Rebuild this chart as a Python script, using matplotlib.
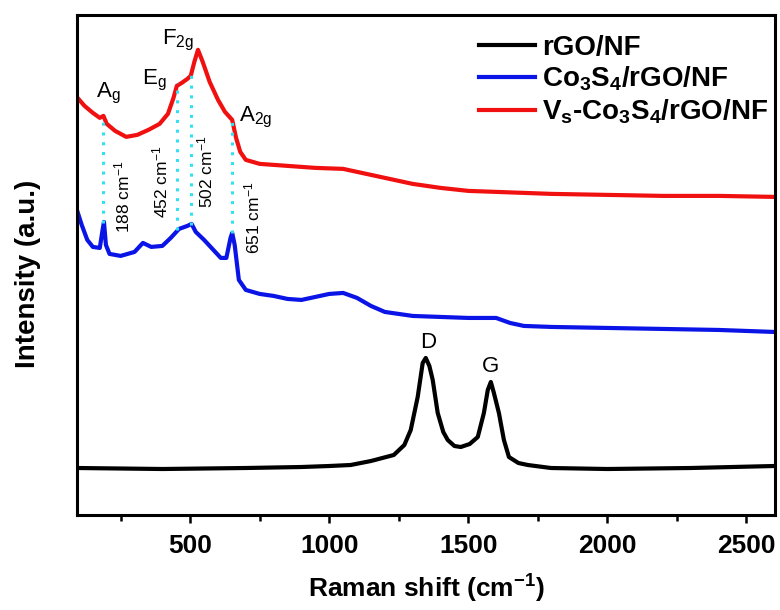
import numpy as np
import matplotlib
matplotlib.use('Agg')
import matplotlib.pyplot as plt
from matplotlib.ticker import MultipleLocator

plt.rcParams['font.family'] = ['Liberation Sans', 'DejaVu Sans']
plt.rcParams['mathtext.default'] = 'regular'

# Raman spectra (intensity in arbitrary units)
x_vs = [95, 120, 150, 175, 188, 200, 230, 270, 310, 350, 390, 420, 440, 452, 470, 490,
        502, 515, 528, 545, 570, 600, 625, 651, 665, 680, 700, 750, 850, 950, 1050,
        1100, 1200, 1300, 1400, 1500, 1600, 1800, 2000, 2200, 2400, 2600]
y_vs = [417, 409, 402, 397, 399, 391, 384, 378, 380, 385, 391, 401, 417, 429, 432, 436,
        439, 453, 465, 453, 433, 415, 403, 395, 377, 363, 355, 351, 349, 347, 346,
        343, 337, 331, 327, 324, 323, 321, 320, 319, 319, 318]

x_co = [95, 110, 130, 150, 175, 185, 190, 197, 210, 250, 300, 330, 360, 400, 430, 460,
        490, 505, 520, 550, 580, 610, 630, 645, 651, 660, 675, 700, 750, 800, 850, 900,
        950, 1000, 1050, 1100, 1150, 1200, 1300, 1400, 1500, 1600, 1650, 1700, 1800,
        2000, 2200, 2400, 2600]
y_co = [303, 290, 275, 268, 267, 285, 293, 270, 261, 259, 263, 272, 268, 269, 277, 286,
        289, 291, 283, 275, 266, 257, 257, 277, 282, 270, 235, 225, 221, 219, 216, 215,
        218, 221, 222, 217, 209, 203, 199, 198, 197, 197, 192, 189, 188,
        187, 186, 185, 183]

x_rgo = [95, 400, 700, 900, 1000, 1077, 1150, 1232, 1270, 1293, 1318, 1336, 1347, 1360,
         1372, 1390, 1410, 1426, 1450, 1473, 1505, 1534, 1556, 1570, 1581, 1592, 1610,
         1628, 1646, 1680, 1714, 1797, 2000, 2300, 2600]
y_rgo = [47, 46, 47, 48, 49, 50, 54, 60, 70, 85, 118, 152, 157, 149,
         135, 102, 83, 75, 69, 68, 71, 78, 102, 125, 133, 122, 102,
         75, 58, 52, 50, 47, 46, 47, 49]

# Co3S4 modes: position, top (red) and bottom (blue) of the guide line
peak_pos = [188, 452, 502, 651]
peak_top = [397, 432, 440, 393]
peak_bot = [292, 285, 290, 282]
peak_text = ['188 cm$^{-1}$', '452 cm$^{-1}$', '502 cm$^{-1}$', '651 cm$^{-1}$']

fig = plt.figure(figsize=(7.8, 6.1), dpi=100)
ax = fig.add_axes([0.0987, 0.1557, 0.895, 0.82])

ax.plot(x_rgo, y_rgo, color='black', lw=3, label='rGO/NF')
ax.plot(x_co, y_co, color='#0a14e6', lw=3, label='Co$_3$S$_4$/rGO/NF')
ax.plot(x_vs, y_vs, color='#f01010', lw=3, label='V$_s$-Co$_3$S$_4$/rGO/NF')

for p, t, b in zip(peak_pos, peak_top, peak_bot):
    ax.plot([p, p], [b, t], color='#33e0f0', lw=2.2, ls=(0, (1, 2.2)))

txt_x = [255, 392, 554, 723]
txt_y = [318, 333, 343, 297]
for tx, ty, s in zip(txt_x, txt_y, peak_text):
    ax.text(tx, ty, s, rotation=90, ha='center', va='center', fontsize=12.5)

ax.text(163, 417, 'A$_g$', fontsize=16)
ax.text(328, 430, 'E$_g$', fontsize=16)
ax.text(400, 470, 'F$_{2g}$', fontsize=16)
ax.text(676, 393, 'A$_{2g}$', fontsize=16)
ax.text(1354, 167, 'D', fontsize=16, ha='center')
ax.text(1581, 143, 'G', fontsize=16, ha='center')

ax.set_xlim(93, 2603)
ax.set_ylim(0, 500)
ax.xaxis.set_major_locator(MultipleLocator(500))
ax.xaxis.set_minor_locator(MultipleLocator(250))
ax.set_yticks([])
ax.tick_params(axis='x', which='major', direction='out', length=6, width=1.8,
               labelsize=19, pad=8)
ax.tick_params(axis='x', which='minor', direction='out', length=4, width=1.8)
for lab in ax.get_xticklabels():
    lab.set_fontweight('bold')
for sp in ax.spines.values():
    sp.set_linewidth(2.2)

ax.set_xlabel('Raman shift (cm$^{-1}$)', fontsize=19, fontweight='bold', labelpad=10)
ax.set_ylabel('Intensity (a.u.)', fontsize=20, fontweight='bold')
ax.yaxis.set_label_coords(-0.052, 0.482)

leg = ax.legend(loc='upper left', bbox_to_anchor=(0.54, 1.01), frameon=False,
                fontsize=20, handlelength=2.0, handletextpad=0.27, labelspacing=0.15)
for t in leg.get_texts():
    t.set_fontweight('bold')

fig.savefig('out.png', dpi=100)
